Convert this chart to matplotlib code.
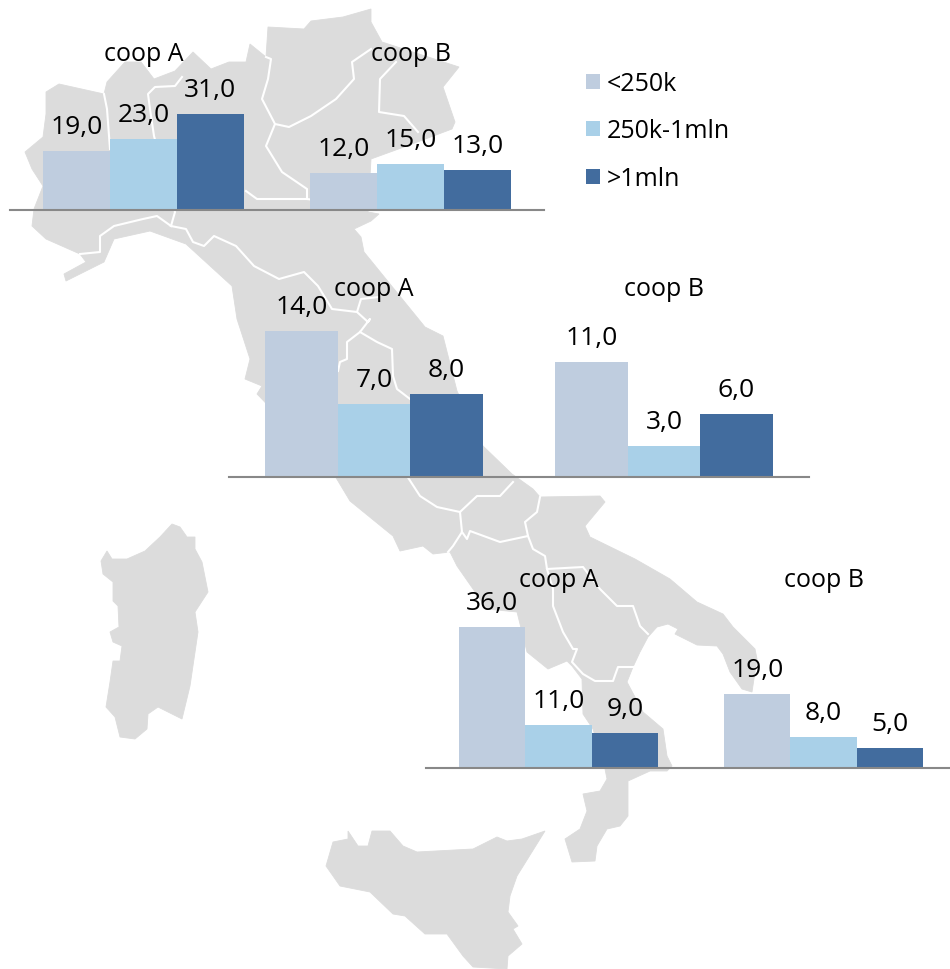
import numpy as np
import matplotlib
matplotlib.use('Agg')
import matplotlib.pyplot as plt
from matplotlib.patches import Polygon

plt.rcParams['font.family'] = ['Open Sans', 'DejaVu Sans']

# Chart data
groups = ['coop A', 'coop B']
sizes = ['<250k', '250k-1mln', '>1mln']
colors = ['#BFCDDF', '#A9D0E8', '#426C9E']

north = [[19, 23, 31], [12, 15, 13]]
centre = [[14, 7, 8], [11, 3, 6]]
south = [[36, 11, 9], [19, 8, 5]]

# Background map (pixels)
mainland = [(25,153),(43,138),(46,115),(46,93),(59,85),(104,95),(107,83),(125,63),(141,63),(154,80),(175,72),(193,53),
            (211,70),(229,63),(246,63),(250,45),(266,58),(268,28),(304,30),(311,22),(343,18),(371,10),
            (371,23),(382,43),(459,68),(443,88),(455,123),(452,130),(404,148),(371,160),(368,213),(379,215),
            (371,222),(354,230),(361,238),(364,253),(425,328),(443,337),(457,392),(483,447),(512,475),(533,490),
            (540,498),(600,497),(605,503),(585,527),(590,538),(635,560),(670,580),(697,603),(723,615),(733,628),
            (755,650),(757,660),(752,693),(742,690),(730,673),(723,655),(717,647),(697,646),(675,635),(678,630),
            (668,625),(657,628),(648,638),(640,653),(633,668),(627,683),(643,713),(663,730),(667,757),(672,767),
            (667,772),(650,772),(628,782),(628,817),(620,827),(607,830),(597,847),(595,862),(572,863),(565,840),
            (580,830),(587,812),(583,795),(600,792),(607,780),(605,770),(593,730),(583,715),(582,680),(572,667),
            (567,662),(548,670),(527,653),(517,613),(487,610),(457,567),(450,553),(433,555),(423,547),(400,552),
            (393,537),(350,502),(335,477),(260,398),(257,395),(262,387),(245,380),(250,360),(237,320),
            (232,287),(186,245),(150,232),(114,240),(104,263),(66,282),(64,275),(86,263),(80,255),(46,240),
            (32,227),(34,210),(43,187),(32,170)]
sardinia = [(172,525),(180,528),(187,538),(195,538),(195,550),(202,563),(208,593),(195,613),(198,633),(190,687),
            (182,720),(158,708),(148,715),(147,730),(135,740),(120,738),(115,718),(106,708),(110,683),(113,662),
            (120,662),(122,647),(113,643),(110,633),(119,628),(118,607),(113,602),(113,583),(103,575),(101,562),
            (107,552),(112,560),(127,560),(145,552),(160,538)]
sicily = [(348,832),(348,840),(333,843),(326,867),(340,887),(370,893),(393,915),(405,917),(425,935),(447,935),
          (463,957),(473,968),(507,970),(508,957),(522,945),(513,930),(518,927),(508,913),(510,897),(517,877),
          (545,832),(522,840),(507,842),(497,838),(473,850),(417,853),(403,847),(390,832),(372,832),(368,847),(358,847)]
borders = [
    [(104,95),(107,110),(110,150)],
    [(182,78),(175,87),(155,88),(148,95),(150,110),(154,137),(175,213),(171,227)],
    [(171,227),(157,217),(143,220),(114,227),(100,237),(100,253),(80,255)],
    [(171,227),(186,230),(193,243),(204,247),(214,237),(236,247),(254,267),(279,280),(304,273),(318,287),
     (332,310),(357,313),(368,323),(370,320),(360,333),(347,343),(347,360),(340,363),(338,372)],
    [(357,313),(361,300),(379,298)],
    [(246,192),(257,200),(271,200),(307,200),(368,208)],
    [(307,200),(307,190),(282,173),(266,147),(275,125),(289,128),(311,117),(336,100),(354,80),(352,63),(371,50)],
    [(275,125),(262,100),(268,80),(271,60),(266,58)],
    [(396,63),(380,80),(379,113),(404,117),(418,133)],
    [(360,333),(377,343),(392,350),(393,377),(397,390),(410,400)],
    [(407,477),(420,497),(437,508),(460,513),(477,497),(500,497),(513,483)],
    [(460,513),(462,533),(453,547),(448,553)],
    [(462,533),(467,540),(470,532),(500,543),(528,537),(525,523),(537,513),(540,498)],
    [(528,537),(533,550),(545,557),(547,570),(583,568),(600,590),(617,607),(633,607),(640,627),(648,635)],
    [(547,570),(553,590),(553,607),(563,633),(573,650),(577,650),(572,663),(583,675),(595,682),(613,682),(618,668),(633,668)],
]

fig = plt.figure(figsize=(9.5, 9.7), dpi=100)
W, H = 950.0, 970.0

# map goes underneath everything
bg = fig.add_axes([0, 0, 1, 1])
bg.set_xlim(0, W)
bg.set_ylim(H, 0)
bg.axis('off')
for shape in [mainland, sardinia, sicily]:
    bg.add_patch(Polygon(shape, closed=True, facecolor='#DCDCDC', edgecolor='#DCDCDC', linewidth=0.6))
for line in borders:
    xs, ys = zip(*line)
    bg.plot(xs, ys, color='white', linewidth=1.5, solid_joinstyle='round')

def panel(values, left, right, baseline, title_base, px_per_unit):
    # axes runs from the baseline up to the baseline of the group titles
    ax = fig.add_axes([left / W, 1 - baseline / H, (right - left) / W, (baseline - title_base) / H])
    ax.patch.set_alpha(0)
    ax.set_xlim(-0.5, 1.5)
    ax.set_ylim(0, (baseline - title_base) / px_per_unit)
    bars = []
    for i in range(3):
        vals = [values[g][i] for g in range(2)]
        b = ax.bar(np.arange(2) + (i - 1) * 0.25, vals, width=0.25, color=colors[i], label=sizes[i])
        bars.append(b)
        for rect, v in zip(b, vals):
            ax.annotate(f'{v:.1f}'.replace('.', ','), (rect.get_x() + rect.get_width() / 2, v),
                        xytext=(0, 18 * 0.72), textcoords='offset points',
                        ha='center', va='baseline', fontsize=19, color='black')
    for g, name in enumerate(groups):
        ax.text(g, 1, name, transform=ax.get_xaxis_transform(), ha='center', va='baseline',
                fontsize=18, color='black')
    for s in ['top', 'left', 'right']:
        ax.spines[s].set_visible(False)
    ax.spines['bottom'].set_color('#888888')
    ax.spines['bottom'].set_linewidth(1.5)
    ax.set_xticks([])
    ax.set_yticks([])
    return bars

top_bars = panel(north, 10, 544, 211, 61, 3.1)
panel(centre, 229, 809, 478, 296, 10.43)
panel(south, 426, 956, 769, 587, 3.92)

fig.legend(handles=[b[0] for b in top_bars], labels=sizes, loc='upper left',
           bbox_to_anchor=(586 / W, 1 - 72 / H), frameon=False, fontsize=18,
           handlelength=0.56, handleheight=0.56, handletextpad=0.28, labelspacing=0.9,
           borderpad=0, borderaxespad=0)

fig.savefig('out.png', dpi=100)
